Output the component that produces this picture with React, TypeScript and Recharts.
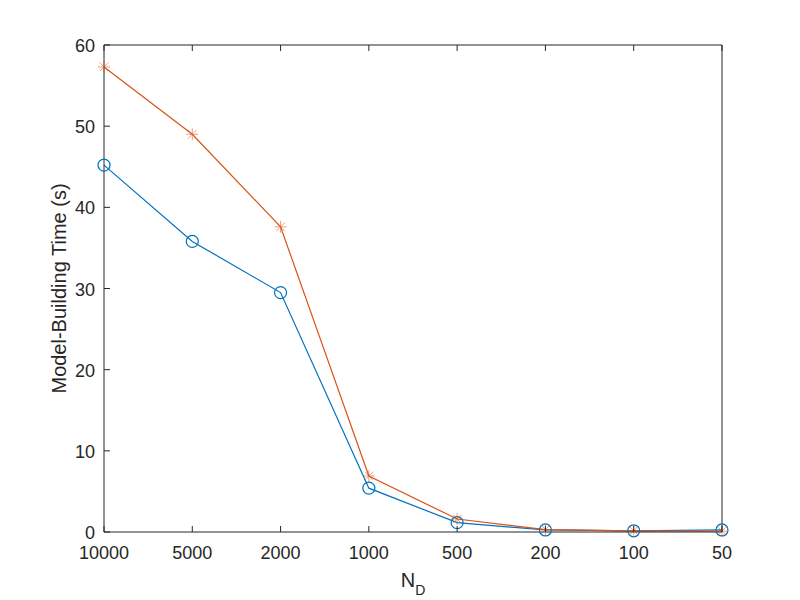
import React from 'react';
import { LineChart, Line, XAxis, YAxis } from 'recharts';

const categories = ['10000', '5000', '2000', '1000', '500', '200', '100', '50'];
const seriesCircle = [45.2, 35.8, 29.5, 5.4, 1.15, 0.25, 0.15, 0.25];
const seriesStar = [57.3, 49.0, 37.6, 6.9, 1.6, 0.3, 0.15, 0.1];
const yTicks = [0, 10, 20, 30, 40, 50, 60];

const data = categories.map((c, i) => ({ n: c, a: seriesCircle[i], b: seriesStar[i] }));

const AX = '#262626';
const FONT = 'Liberation Sans, Arial, Helvetica, sans-serif';
const BLUE = '#0072BD';
const ORANGE = '#D95319';

const BottomTick = (p: any) => (
  <g>
    <line x1={p.x} y1={p.y} x2={p.x} y2={p.y - 6} stroke={AX} strokeWidth={1} />
    <text x={p.x} y={p.y + 27} textAnchor="middle" fontSize={18} fill={AX} fontFamily={FONT}>
      {p.payload.value}
    </text>
  </g>
);
const TopTick = (p: any) => (
  <line x1={p.x} y1={p.y} x2={p.x} y2={p.y + 6} stroke={AX} strokeWidth={1} />
);
const LeftTick = (p: any) => (
  <g>
    <line x1={p.x} y1={p.y} x2={p.x + 6} y2={p.y} stroke={AX} strokeWidth={1} />
    <text x={p.x - 9} y={p.y + 7} textAnchor="end" fontSize={18} fill={AX} fontFamily={FONT}>
      {p.payload.value}
    </text>
  </g>
);
const RightTick = (p: any) => (
  <line x1={p.x} y1={p.y} x2={p.x - 6} y2={p.y} stroke={AX} strokeWidth={1} />
);

const CircleDot = (p: any) => (
  <circle key={p.index} cx={p.cx} cy={p.cy} r={6} fill="none" stroke={BLUE} strokeWidth={1.2} />
);
const StarDot = (p: any) => {
  const r = 6;
  const d = r * 0.72;
  return (
    <g key={p.index} stroke={ORANGE} strokeWidth={1} opacity={0.55}>
      <line x1={p.cx - r} y1={p.cy} x2={p.cx + r} y2={p.cy} />
      <line x1={p.cx} y1={p.cy - r} x2={p.cx} y2={p.cy + r} />
      <line x1={p.cx - d} y1={p.cy - d} x2={p.cx + d} y2={p.cy + d} />
      <line x1={p.cx - d} y1={p.cy + d} x2={p.cx + d} y2={p.cy - d} />
    </g>
  );
};

const YLabel = (p: any) => {
  const vb = p.viewBox;
  const x = 58;
  const y = vb.y + vb.height / 2;
  return (
    <text x={x} y={y} transform={`rotate(-90 ${x} ${y})`} textAnchor="middle" fontSize={20} fill={AX} fontFamily={FONT}>
      Model-Building Time (s)
    </text>
  );
};
const XLabel = (p: any) => {
  const vb = p.viewBox;
  const x = vb.x + vb.width / 2;
  return (
    <text x={x} y={579} textAnchor="middle" fontSize={20} fill={AX} fontFamily={FONT}>
      N<tspan fontSize={14} dy={8}>D</tspan>
    </text>
  );
};

export default function App() {
  return (
    <div style={{ width: 784, height: 592 }}>
      <LineChart width={784} height={592} data={data} margin={{ top: 27, right: 60, bottom: 28, left: 36 }}>
        <XAxis
          dataKey="n"
          xAxisId="b"
          orientation="bottom"
          height={40}
          stroke={AX}
          tickLine={false}
          tickSize={0}
          tickMargin={0}
          tick={BottomTick}
          interval={0}
          label={{ content: XLabel }}
        />
        <XAxis
          dataKey="n"
          xAxisId="t"
          orientation="top"
          height={10}
          stroke={AX}
          tickLine={false}
          tickSize={0}
          tickMargin={0}
          tick={TopTick}
          interval={0}
        />
        <YAxis
          yAxisId="l"
          width={60}
          domain={[0, 60]}
          ticks={yTicks}
          type="number"
          stroke={AX}
          tickLine={false}
          tickSize={0}
          tickMargin={0}
          tick={LeftTick}
          interval={0}
          label={{ content: YLabel }}
        />
        <YAxis
          yAxisId="r"
          orientation="right"
          width={10}
          domain={[0, 60]}
          ticks={yTicks}
          type="number"
          stroke={AX}
          tickLine={false}
          tickSize={0}
          tickMargin={0}
          tick={RightTick}
          interval={0}
        />
        <Line
          xAxisId="b"
          yAxisId="l"
          dataKey="a"
          stroke={BLUE}
          strokeWidth={1.2}
          dot={CircleDot}
          activeDot={false}
          isAnimationActive={false}
          type="linear"
        />
        <Line
          xAxisId="b"
          yAxisId="l"
          dataKey="b"
          stroke={ORANGE}
          strokeWidth={1.2}
          dot={StarDot}
          activeDot={false}
          isAnimationActive={false}
          type="linear"
        />
      </LineChart>
    </div>
  );
}
